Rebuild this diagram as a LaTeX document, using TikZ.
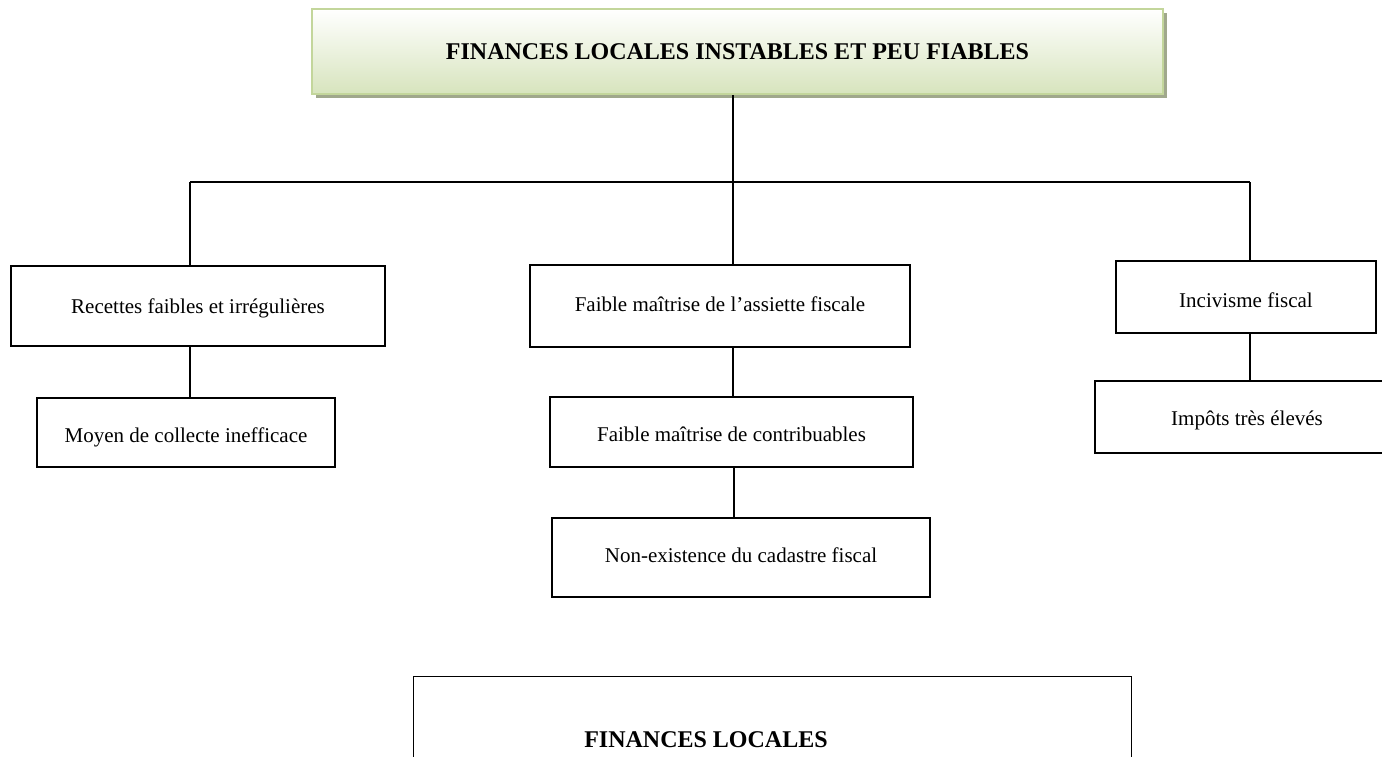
\documentclass[tikz,border=0pt]{standalone}
\usepackage{fontspec}
\setmainfont{Liberation Serif}
\usetikzlibrary{shadows}
\definecolor{titlefill}{RGB}{215,228,189}
\definecolor{titleedge}{RGB}{195,214,155}
\definecolor{titleshadow}{RGB}{160,168,140}
\begin{document}
\begin{tikzpicture}[x=1pt,y=-1pt,
  box/.style={draw=black, line width=1.3pt, fill=white, inner sep=0pt,
    text height=15pt, text depth=5pt,
    font=\fontsize{21}{25}\selectfont},
  % lowers the label inside a box by #1
  sink/.style={text height=15pt+2*#1},
  titlebox/.style={draw=titleedge, line width=2pt, inner sep=0pt,
    top color=white, bottom color=titlefill,
    drop shadow={shadow xshift=4pt, shadow yshift=-4pt, fill=titleshadow, opacity=1},
    font=\fontsize{24}{28}\selectfont\bfseries},
  link/.style={line width=1.3pt}]
\useasboundingbox (0,0) rectangle (1382,756);

% main problem
\node[titlebox, minimum width=851pt, minimum height=85pt] (top) at (737.5,51.5)
  {FINANCES LOCALES INSTABLES ET PEU FIABLES};

% first level causes
\node[box, sink=2pt, minimum width=374pt, minimum height=80pt] (rec) at (198,306)
  {Recettes faibles et irrégulières};
\node[box, minimum width=380pt, minimum height=82pt] (ass) at (720,306)
  {Faible maîtrise de l’assiette fiscale};
\node[box, sink=5pt, minimum width=260pt, minimum height=72pt] (inc) at (1246,297)
  {Incivisme fiscal};

% deeper causes
\node[box, sink=5pt, minimum width=298pt, minimum height=69pt] (moy) at (186,432.5)
  {Moyen de collecte inefficace};
\node[box, sink=4pt, minimum width=363pt, minimum height=70pt] (con) at (731.5,432)
  {Faible maîtrise de contribuables};
\node[box, minimum width=378pt, minimum height=79pt] (non) at (741,557.5)
  {Non-existence du cadastre fiscal};
\node[box, sink=3pt, minimum width=304pt, minimum height=72pt] (imp) at (1247,417)
  {Impôts très élevés};

% bottom frame
\node[box, anchor=north west, minimum width=718pt, minimum height=120pt] (fl) at (413,676) {};
\node[font=\fontsize{24}{28}\selectfont\bfseries, inner sep=0pt] (fltext) at (706,740)
  {FINANCES LOCALES};

% tree connectors
\coordinate (jm) at (733,182);
\coordinate (jl) at (190,182);
\coordinate (jr) at (1250,182);
\draw[link] (top.south -| jm) -- (jm);
\draw[link] (jl) -- (jr);
\draw[link] (jl) -- (jl |- rec.north);
\draw[link] (jm) -- (jm |- ass.north);
\draw[link] (jr) -- (jr |- inc.north);
\draw[link] (jl |- rec.south) -- (jl |- moy.north);
\draw[link] (jm |- ass.south) -- (jm |- con.north);
\draw[link] (734,0 |- con.south) -- (734,0 |- non.north);
\draw[link] (jr |- inc.south) -- (jr |- imp.north);
\end{tikzpicture}
\end{document}
